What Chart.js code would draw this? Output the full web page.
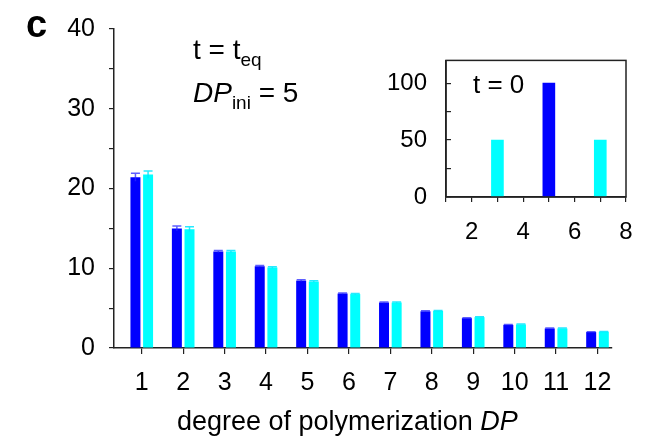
<!DOCTYPE html>
<html>
<head>
<meta charset="utf-8">
<script src="https://cdn.jsdelivr.net/npm/chart.js@4.4.0/dist/chart.umd.min.js"></script>
<style>
  body { margin: 0; background: #fff; }
  #wrap { position: relative; width: 654px; height: 440px; }
  #main { position: absolute; left: 0; top: 0; }
  #inset { position: absolute; left: 370px; top: 22px; }
</style>
</head>
<body>
<div id="wrap">
  <canvas id="main" width="654" height="440"></canvas>
  <canvas id="inset" width="284" height="228"></canvas>
</div>
<script>
// equilibrium distribution, t = t_eq
const dp = [1, 2, 3, 4, 5, 6, 7, 8, 9, 10, 11, 12];
const blueVals = [21.4, 15.0, 12.1, 10.25, 8.45, 6.83, 5.7, 4.6, 3.74, 2.9, 2.45, 2.0];
const blueErr = [0.5, 0.3, 0.12, 0.1, 0.1, 0.08, 0.08, 0.06, 0.06, 0.05, 0.05, 0.04];
const cyanVals = [21.75, 14.9, 12.1, 10.1, 8.33, 6.76, 5.7, 4.65, 3.87, 2.95, 2.45, 2.03];
const cyanErr = [0.45, 0.3, 0.12, 0.1, 0.1, 0.08, 0.08, 0.06, 0.06, 0.05, 0.05, 0.04];
const yTicks = [0, 5, 10, 15, 20, 25, 30, 35, 40];

// inset, t = 0
const insetCyanDP = [3, 7];
const insetCyanVals = [50, 50];
const insetBlueDP = [5];
const insetBlueVals = [100];
const insetXTicks = [1, 2, 3, 4, 5, 6, 7, 8];
const insetYTicks = [0, 25, 50, 75, 100];

const FONT = '"Liberation Sans", Arial, Helvetica, sans-serif';
const BLUE = '#0000ff';
const CYAN = '#00ffff';

const errorBars = {
  id: 'errorBars',
  afterDatasetsDraw(chart) {
    const ctx = chart.ctx;
    const ys = chart.scales.y;
    [[blueVals, blueErr, 'rgba(40,40,255,0.75)'], [cyanVals, cyanErr, 'rgba(0,230,255,0.85)']].forEach((s, i) => {
      const meta = chart.getDatasetMeta(i);
      ctx.save();
      ctx.strokeStyle = s[2];
      ctx.lineWidth = 1.5;
      meta.data.forEach((bar, j) => {
        const top = ys.getPixelForValue(s[0][j] + s[1][j]);
        const bot = ys.getPixelForValue(s[0][j] - s[1][j]);
        ctx.beginPath();
        ctx.moveTo(bar.x, bot);
        ctx.lineTo(bar.x, top);
        ctx.moveTo(bar.x - 4.5, top);
        ctx.lineTo(bar.x + 4.5, top);
        ctx.stroke();
      });
      ctx.restore();
    });
  }
};

const mainText = {
  id: 'mainText',
  afterDraw(chart) {
    const ctx = chart.ctx;
    ctx.save();
    ctx.fillStyle = '#000';
    ctx.textBaseline = 'alphabetic';
    ctx.textAlign = 'left';
    // panel letter
    ctx.font = 'bold 38px ' + FONT;
    ctx.fillText('c', 26, 37);
    // t = t_eq
    let x = 193;
    ctx.font = '28px ' + FONT;
    ctx.fillText('t = t', x, 59);
    x += ctx.measureText('t = t').width;
    ctx.font = '19px ' + FONT;
    ctx.fillText('eq', x, 66);
    // DP_ini = 5
    x = 193;
    ctx.font = 'italic 28px ' + FONT;
    ctx.fillText('DP', x, 102);
    x += ctx.measureText('DP').width;
    ctx.font = '19px ' + FONT;
    ctx.fillText('ini', x, 109);
    x += ctx.measureText('ini').width;
    ctx.font = '28px ' + FONT;
    ctx.fillText(' = 5', x, 102);
    // x axis title
    x = 177;
    ctx.font = '27px ' + FONT;
    ctx.fillText('degree of polymerization ', x, 430);
    x += ctx.measureText('degree of polymerization ').width;
    ctx.font = 'italic 27px ' + FONT;
    ctx.fillText('DP', x, 430);
    ctx.restore();
  }
};

new Chart(document.getElementById('main'), {
  type: 'bar',
  data: {
    datasets: [
      { data: dp.map((d, i) => ({ x: d, y: blueVals[i] })), backgroundColor: BLUE },
      { data: dp.map((d, i) => ({ x: d, y: cyanVals[i] })), backgroundColor: CYAN }
    ]
  },
  options: {
    responsive: false,
    animation: false,
    devicePixelRatio: 1,
    categoryPercentage: 0.61,
    barPercentage: 0.79,
    layout: { padding: { top: 26, right: 42, left: 0, bottom: 0 } },
    plugins: { legend: { display: false }, tooltip: { enabled: false } },
    scales: {
      x: {
        type: 'linear',
        offset: false,
        min: 0.33,
        max: 12.35,
        afterFit: s => { s.height = 92; },
        afterBuildTicks: s => { s.ticks = dp.map(v => ({ value: v })); },
        grid: { offset: false, drawOnChartArea: false, tickLength: 6, color: '#222', lineWidth: 1.2 },
        border: { color: '#222', width: 1.5 },
        ticks: { color: '#000', font: { family: FONT, size: 25 }, padding: 14, maxRotation: 0, autoSkip: false }
      },
      y: {
        min: 0,
        max: 40,
        afterFit: s => { s.width = 114; },
        afterBuildTicks: s => { s.ticks = yTicks.map(v => ({ value: v })); },
        grid: { drawOnChartArea: false, tickLength: 5, color: '#222', lineWidth: 1.2 },
        border: { color: '#222', width: 1.5 },
        ticks: { color: '#000', font: { family: FONT, size: 25 }, padding: 14, callback: v => (v % 10 === 0 ? v : '') }
      }
    }
  },
  plugins: [errorBars, mainText]
});

const insetDeco = {
  id: 'insetDeco',
  afterDraw(chart) {
    const ctx = chart.ctx;
    const a = chart.chartArea;
    ctx.save();
    ctx.strokeStyle = '#222';
    ctx.lineWidth = 1.5;
    ctx.strokeRect(a.left, a.top, a.right - a.left, a.bottom - a.top);
    ctx.fillStyle = '#000';
    ctx.font = '26px ' + FONT;
    ctx.textAlign = 'left';
    ctx.fillText('t = 0', 103, 71);
    ctx.restore();
  }
};

new Chart(document.getElementById('inset'), {
  type: 'bar',
  data: {
    datasets: [
      { data: insetCyanDP.map((d, i) => ({ x: d, y: insetCyanVals[i] })), backgroundColor: CYAN, grouped: false, barThickness: 12 },
      { data: insetBlueDP.map((d, i) => ({ x: d, y: insetBlueVals[i] })), backgroundColor: BLUE, grouped: false, barThickness: 12 }
    ]
  },
  options: {
    responsive: false,
    animation: false,
    devicePixelRatio: 1,
    layout: { padding: { top: 0, right: 28, left: 0, bottom: 0 } },
    plugins: { legend: { display: false }, tooltip: { enabled: false } },
    scales: {
      x: {
        type: 'linear',
        offset: false,
        min: 1,
        max: 8,
        afterFit: s => { s.height = 53; },
        afterBuildTicks: s => { s.ticks = insetXTicks.map(v => ({ value: v })); },
        grid: { offset: false, drawOnChartArea: false, tickLength: 5, color: '#222', lineWidth: 1.2 },
        border: { color: '#222', width: 1.5 },
        ticks: { color: '#000', font: { family: FONT, size: 24 }, padding: 16, maxRotation: 0, autoSkip: false, callback: v => (v % 2 === 0 ? v : '') }
      },
      y: {
        min: 0,
        max: 120,
        afterFit: s => { s.width = 76; },
        afterBuildTicks: s => { s.ticks = insetYTicks.map(v => ({ value: v })); },
        grid: { drawOnChartArea: false, tickLength: -5, color: '#222', lineWidth: 1.2 },
        border: { color: '#222', width: 1.5 },
        ticks: { color: '#000', font: { family: FONT, size: 24 }, padding: 24, callback: v => (v % 50 === 0 ? v : '') }
      }
    }
  },
  plugins: [insetDeco]
});
</script>
</body>
</html>
